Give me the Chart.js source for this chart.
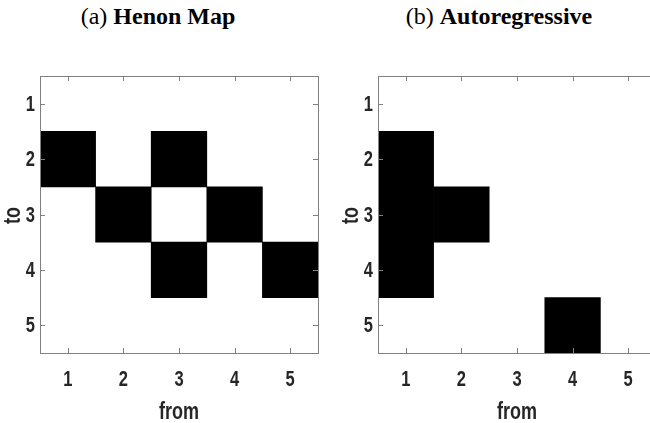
<!DOCTYPE html>
<html>
<head>
<meta charset="utf-8">
<script src="https://cdn.jsdelivr.net/npm/chart.js@4"></script>
<style>
  html, body { margin: 0; padding: 0; background: #fff; overflow: hidden; width: 650px; height: 423px; }
  .wrap { position: absolute; top: 0; width: 325px; height: 423px; }
  .ttl { position: absolute; top: 3px; font: 24px "Liberation Serif", "Times New Roman", serif; white-space: nowrap; transform: translateX(-50%); }
</style>
</head>
<body>
<div class="ttl" style="left:158px">(a) <b>Henon Map</b></div>
<div class="ttl" style="left:499px">(b) <b>Autoregressive</b></div>
<div class="wrap" style="left:0"><canvas id="henon" width="325" height="423"></canvas></div>
<div class="wrap" style="left:338px"><canvas id="ar" width="325" height="423"></canvas></div>
<script>
const nodes = ['1', '2', '3', '4', '5'];
const rowTicks = [1, 2, 3, 4, 5];

// cells: column = from, row = to
const henonFrom = ['1', '3', '2', '4', '3', '5'];
const henonTo = [2, 2, 3, 3, 4, 4];
const arFrom = ['1', '1', '2', '1', '4'];
const arTo = [2, 3, 3, 4, 5];

const FONT = '"Liberation Sans", Arial, sans-serif';
const SQUEEZE = 0.75;  // labels in the figure are a condensed bold face

function narrowText(ctx, txt, x, y, size, align, base, rot) {
  ctx.save();
  ctx.translate(x, y);
  if (rot) ctx.rotate(rot);
  ctx.scale(SQUEEZE, 1);
  ctx.font = 'bold ' + size + 'px ' + FONT;
  ctx.fillStyle = '#262626';
  ctx.textAlign = align;
  ctx.textBaseline = base;
  ctx.fillText(txt, 0, 0);
  ctx.restore();
}

// box round the plot with inward ticks, matlab style, plus the labels
const boxPlugin = {
  id: 'box',
  afterDatasetsDraw(chart) {
    const { ctx, chartArea: a, scales: { x, y } } = chart;
    ctx.save();
    ctx.strokeStyle = '#808080';
    ctx.lineWidth = 1;
    ctx.beginPath();
    nodes.forEach((n, i) => {
      const px = Math.round(x.getPixelForValue(i)) + 0.5;
      ctx.moveTo(px, a.top); ctx.lineTo(px, a.top + 5);
      ctx.moveTo(px, a.bottom); ctx.lineTo(px, a.bottom - 5);
    });
    rowTicks.forEach(v => {
      const py = Math.round(y.getPixelForValue(v)) + 0.5;
      ctx.moveTo(a.left, py); ctx.lineTo(a.left + 5, py);
      ctx.moveTo(a.right, py); ctx.lineTo(a.right - 5, py);
    });
    ctx.stroke();
    ctx.strokeRect(Math.round(a.left) + 0.5, Math.round(a.top) + 0.5, Math.round(a.right - a.left), Math.round(a.bottom - a.top));
    ctx.restore();

    nodes.forEach((n, i) => narrowText(ctx, n, x.getPixelForValue(i), a.bottom + 33, 22, 'center', 'alphabetic'));
    rowTicks.forEach(v => narrowText(ctx, String(v), a.left - 5, y.getPixelForValue(v) + 1, 22, 'right', 'middle'));
    narrowText(ctx, 'from', (a.left + a.right) / 2, a.bottom + 66, 24, 'center', 'alphabetic');
    narrowText(ctx, 'to', 20, (a.top + a.bottom) / 2 + 1, 24, 'center', 'alphabetic', -Math.PI / 2);
  }
};

function makeChart(id, from, to) {
  new Chart(document.getElementById(id), {
    type: 'bar',
    data: {
      labels: nodes,
      datasets: from.map((f, i) => ({
        data: [{ x: f, y: [to[i] - 0.5, to[i] + 0.5] }],
        backgroundColor: '#000',
        barPercentage: 1,
        categoryPercentage: 1,
        grouped: false
      }))
    },
    options: {
      responsive: false,
      animation: false,
      layout: { padding: { top: 76, right: 7, left: 0, bottom: 0 } },
      plugins: { legend: { display: false }, tooltip: { enabled: false } },
      scales: {
        x: {
          grid: { display: false, drawTicks: false },
          border: { display: false },
          ticks: { display: false },
          afterFit: s => { s.height = 70; }
        },
        y: {
          reverse: true,
          min: 0.5,
          max: 5.5,
          afterBuildTicks: s => { s.ticks = rowTicks.map(v => ({ value: v })); },
          grid: { display: false, drawTicks: false },
          border: { display: false },
          ticks: { display: false },
          afterFit: s => { s.width = 40; }
        }
      }
    },
    plugins: [boxPlugin]
  });
}

makeChart('henon', henonFrom, henonTo);
makeChart('ar', arFrom, arTo);
</script>
</body>
</html>
